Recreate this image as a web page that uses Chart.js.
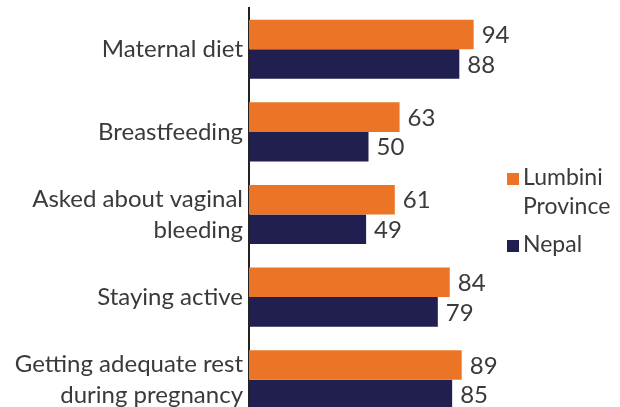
<!DOCTYPE html>
<html>
<head>
<meta charset="utf-8">
<script src="https://cdn.jsdelivr.net/npm/chart.js@4"></script>
<style>
  html, body { margin: 0; padding: 0; background: #fff; overflow: hidden; }
  #wrap { position: relative; width: 620px; height: 421px; }
  #legend { position: absolute; left: 507px; top: 162px; font-family: Lato, sans-serif; font-size: 23px; color: #3a3a3a; line-height: 29px; }
  .item { position: relative; padding-left: 16px; margin-bottom: 9px; }
  .sw { position: absolute; left: 0; top: 11px; width: 12px; height: 12px; }
</style>
</head>
<body>
<div id="wrap">
  <canvas id="grafica" width="620" height="421"></canvas>
  <div id="legend">
    <div class="item"><span class="sw" style="background:#EB7427"></span>Lumbini<br>Province</div>
    <div class="item"><span class="sw" style="background:#201F50"></span>Nepal</div>
  </div>
</div>
<script>
// datos
const categorias = ['Maternal diet', 'Breastfeeding', ['Asked about vaginal', 'bleeding'], 'Staying active', ['Getting adequate rest', 'during pregnancy']];
const lumbini = [94, 63, 61, 84, 89];
const nepal = [88, 50, 49, 79, 85];

// etiquetas de valor a la derecha de cada barra
const etiquetasValor = {
    id: 'etiquetasValor',
    afterDatasetsDraw(chart) {
        const ctx = chart.ctx;
        ctx.save();
        ctx.font = '24px Lato, sans-serif';
        ctx.fillStyle = '#3a3a3a';
        ctx.textAlign = 'left';
        ctx.textBaseline = 'middle';
        chart.data.datasets.forEach((ds, i) => {
            chart.getDatasetMeta(i).data.forEach((bar, j) => {
                ctx.fillText(ds.data[j], bar.x + 8, bar.y + 1);
            });
        });
        ctx.restore();
    }
};

new Chart(document.getElementById('grafica'), {
    type: 'bar',
    data: {
        labels: categorias,
        datasets: [
            { label: 'Lumbini Province', data: lumbini, backgroundColor: '#EB7427' },
            { label: 'Nepal', data: nepal, backgroundColor: '#201F50' }
        ]
    },
    options: {
        indexAxis: 'y',
        responsive: false,
        animation: false,
        layout: { padding: { top: 8, right: 132, bottom: 0, left: 0 } },
        datasets: { bar: { barPercentage: 1, categoryPercentage: 0.715 } },
        plugins: { legend: { display: false }, tooltip: { enabled: false } },
        scales: {
            x: { display: false, min: 0, max: 100 },
            y: {
                afterFit: (scale) => {
                    scale.width = 249;
                    scale.paddingTop = 0;
                    scale.paddingBottom = 0;
                },
                grid: { display: false, drawTicks: false },
                border: { display: true, color: '#222', width: 2 },
                ticks: {
                    color: '#3a3a3a',
                    padding: 6,
                    font: { family: 'Lato, sans-serif', size: 24, lineHeight: 1.3 }
                }
            }
        }
    },
    plugins: [etiquetasValor]
});
</script>
</body>
</html>
